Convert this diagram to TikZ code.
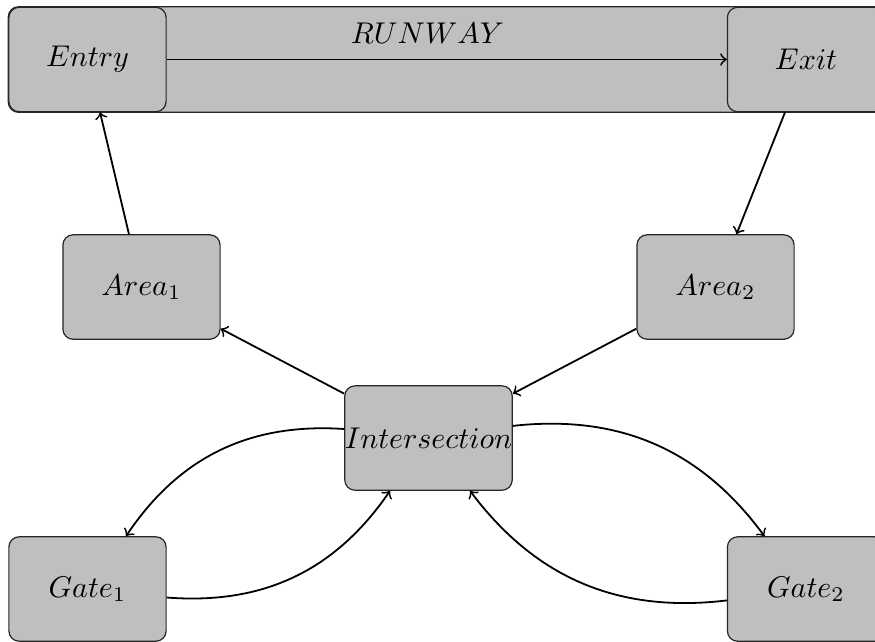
\documentclass[tikz,border=0pt]{standalone}
\usetikzlibrary{backgrounds,fit}
\begin{document}
\begin{tikzpicture}[x=0.33333pt,y=-0.33333pt,
  place/.style={draw=black!85, fill=lightgray, rounded corners=3.4pt,
    minimum width=52.4pt, minimum height=34.8pt, inner sep=0pt},
  link/.style={->, semithick}]
\useasboundingbox (0,0) rectangle (875,641);
\clip (0,0) rectangle (875,641);

% places
\node[place] (entry) at (87.5,59.5) {$Entry$};
\node[place] (exit)  at (806,59.5)  {$Exit$};
\node[place] (area1) at (141.5,287) {$Area_1$};
\node[place] (area2) at (715.5,287) {$Area_2$};
\node[place] (inter) at (428.5,438) {$Intersection$};
\node[place] (gate1) at (87.5,589)  {$Gate_1$};
\node[place] (gate2) at (806,589)   {$Gate_2$};

% the runway strip behind entry and exit
\begin{scope}[on background layer]
  \node[fit=(entry)(exit), inner sep=0pt, draw=black!85, fill=lightgray,
    rounded corners=3.4pt] (runway) {};
\end{scope}
\node[anchor=base, inner sep=0pt] (rwlabel) at (427.5,43) {$RUNWAY$};

% movements
\draw[link] (entry) -- (exit);
\draw[link] (exit) -- (area2);
\draw[link] (area2) -- (inter);
\draw[link] (inter) -- (area1);
\draw[link] (area1) -- (entry);
\draw[link] (inter) to[bend right=30] (gate1);
\draw[link] (gate1) to[bend right=30] (inter);
\draw[link] (inter) to[bend left=30] (gate2);
\draw[link] (gate2) to[bend left=30] (inter);
\end{tikzpicture}
\end{document}
